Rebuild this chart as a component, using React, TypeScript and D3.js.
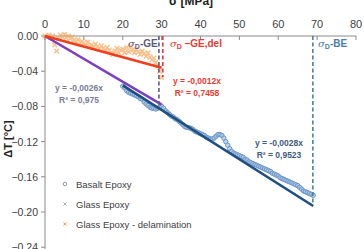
import React, { useEffect, useRef } from 'react'
import * as d3 from 'd3'

// stress [MPa] / temperature change [°C]
const delamStress = [0, 0.5, 1, 1.5, 2, 2.5, 3, 3.5, 4, 4.5, 5, 5.5, 6, 6.5, 7, 7.5, 8, 8.5, 9, 9.5, 10, 10.5, 11, 11.5, 12, 12.5, 13, 13.5, 14, 14.5, 15, 15.5, 16, 16.5, 17, 17.5, 18, 18.5, 19, 19.5, 20, 20.5, 21, 21.5, 22, 22.5, 23, 23.5, 24, 24.5, 25, 25.5, 26, 26.5, 27, 27.5, 28, 28.5, 29, 29.5, 30]
const delamDT = [0, -0.001, 0.001, -0.002, 0.0, -0.010, -0.017, -0.003, 0.001, -0.001, 0.002, -0.002, 0.0, -0.003, -0.001, -0.005, -0.007, -0.004, -0.009, -0.006, -0.008, -0.011, -0.007, -0.012, -0.010, -0.013, -0.009, -0.012, -0.015, -0.011, -0.014, -0.017, -0.013, -0.016, -0.019, -0.021, -0.017, -0.014, -0.019, -0.016, -0.015, -0.019, -0.013, -0.018, -0.012, -0.016, -0.019, -0.015, -0.018, -0.021, -0.017, -0.020, -0.023, -0.019, -0.024, -0.027, -0.025, -0.030, -0.034, -0.040, -0.047]

const glassStress = [4, 10, 16, 22, 28]
const glassDT = [-0.010, -0.026, -0.042, -0.057, -0.073]

const basaltStress = [20, 20.5, 21, 21.5, 22, 22.5, 23, 23.5, 24, 24.5, 25, 25.5, 26, 26.5, 27, 27.5, 28, 28.5, 29, 29.5, 30, 30.5, 31, 31.5, 32, 32.5, 33, 33.5, 34, 34.5, 35, 35.5, 36, 36.5, 37, 37.5, 38, 38.5, 39, 39.5, 40, 40.5, 41, 41.5, 42, 42.5, 43, 43.5, 44, 44.5, 45, 45.5, 46, 46.5, 47, 47.5, 48, 48.5, 49, 49.5, 50, 50.5, 51, 51.5, 52, 52.5, 53, 53.5, 54, 54.5, 55, 55.5, 56, 56.5, 57, 57.5, 58, 58.5, 59, 59.5, 60, 60.5, 61, 61.5, 62, 62.5, 63, 63.5, 64, 64.5, 65, 65.5, 66, 66.5, 67, 67.5, 68, 68.5, 69]
const basaltDT = [-0.057, -0.059, -0.062, -0.064, -0.065, -0.066, -0.067, -0.068, -0.069, -0.071, -0.072, -0.075, -0.077, -0.079, -0.081, -0.082, -0.082, -0.083, -0.082, -0.081, -0.080, -0.082, -0.085, -0.087, -0.089, -0.091, -0.092, -0.094, -0.095, -0.097, -0.099, -0.101, -0.103, -0.104, -0.104, -0.105, -0.106, -0.108, -0.109, -0.110, -0.111, -0.112, -0.113, -0.115, -0.116, -0.117, -0.117, -0.116, -0.114, -0.112, -0.112, -0.113, -0.116, -0.120, -0.124, -0.128, -0.131, -0.133, -0.134, -0.135, -0.136, -0.137, -0.138, -0.140, -0.141, -0.143, -0.144, -0.145, -0.146, -0.147, -0.148, -0.149, -0.150, -0.151, -0.152, -0.153, -0.154, -0.156, -0.157, -0.158, -0.159, -0.161, -0.162, -0.163, -0.164, -0.165, -0.166, -0.167, -0.168, -0.169, -0.170, -0.172, -0.174, -0.176, -0.177, -0.178, -0.179, -0.180, -0.181]

// trend lines y = a*x
const fitNames = ['glass', 'delam', 'basalt']
const fitSlopes = [-0.0026, -0.0012, -0.0028]
const fitFrom = [0, 0, 20]
const fitTo = [30, 30, 69]

// failure stress markers
const limitStress = [29.3, 30.3, 68.9]
const limitDepth = [-0.078, -0.047, -0.19]

const xTicks = [0, 10, 20, 30, 40, 50, 60, 70, 80]
const yTicks = [0, -0.04, -0.08, -0.12, -0.16, -0.2, -0.24]
const legendLabels = ['Basalt Epoxy', 'Glass Epoxy', 'Glass Epoxy - delamination']

const App = () => {
  const ref = useRef<SVGSVGElement>(null)

  useEffect(() => {
    const svg = d3.select(ref.current)
    svg.selectAll('*').remove()
    svg.attr('font-family', 'Liberation Sans, Arial, sans-serif')

    const x = d3.scaleLinear().domain([0, 80]).range([45, 356])
    const y = d3.scaleLinear().domain([0, -0.24]).range([36, 247.2])

    // title + y label
    svg.append('text').attr('x', 191).attr('y', 5).attr('text-anchor', 'middle')
      .attr('font-size', 12).attr('font-weight', 'bold').attr('fill', '#222').text('σ [MPa]')
    svg.append('text').attr('transform', 'translate(12,139) rotate(-90)').attr('text-anchor', 'middle')
      .attr('font-size', 11).attr('font-weight', 'bold').attr('fill', '#222').text('ΔT [°C]')

    // axes
    const axisColor = '#8a8a8a'
    const xa = svg.append('g')
    xa.append('line').attr('x1', x(0)).attr('x2', x(80)).attr('y1', y(0)).attr('y2', y(0))
      .attr('stroke', axisColor).attr('stroke-width', 1)
    xTicks.forEach(t => {
      xa.append('line').attr('x1', x(t)).attr('x2', x(t)).attr('y1', y(0)).attr('y2', y(0) + 4)
        .attr('stroke', axisColor)
      xa.append('text').attr('x', x(t)).attr('y', 28).attr('text-anchor', 'middle')
        .attr('font-size', 11).attr('fill', '#404040').text(t)
    })
    const ya = svg.append('g')
    ya.append('line').attr('x1', x(0)).attr('x2', x(0)).attr('y1', y(0)).attr('y2', 249)
      .attr('stroke', axisColor)
    yTicks.forEach(t => {
      ya.append('line').attr('x1', x(0) - 4).attr('x2', x(0)).attr('y1', y(t)).attr('y2', y(t))
        .attr('stroke', axisColor)
      ya.append('text').attr('x', 38).attr('y', y(t) + 4).attr('text-anchor', 'end')
        .attr('font-size', 10.5).attr('fill', '#404040').text(d3.format('.2f')(t))
    })

    const cross = (g, cx, cy, s, color, w) => {
      g.append('path').attr('d', `M${cx - s},${cy - s}L${cx + s},${cy + s}M${cx - s},${cy + s}L${cx + s},${cy - s}`)
        .attr('stroke', color).attr('stroke-width', w).attr('fill', 'none')
    }

    // glass epoxy (mostly beneath its trend line)
    const gGlass = svg.append('g').attr('opacity', 0.4)
    glassStress.forEach((s, i) => cross(gGlass, x(s), y(glassDT[i]), 1.5, '#a9b4c6', 0.8))

    // delamination crosses
    const gDel = svg.append('g').attr('opacity', 0.7)
    delamStress.forEach((s, i) => cross(gDel, x(s), y(delamDT[i]), 2.3, '#f6a557', 1.4))

    // basalt circles
    const gBas = svg.append('g')
    basaltStress.forEach((s, i) => {
      gBas.append('circle').attr('cx', x(s)).attr('cy', y(basaltDT[i])).attr('r', 2.2)
        .attr('fill', '#a9c5e6').attr('fill-opacity', 0.7).attr('stroke', '#6a95c8').attr('stroke-width', 1)
    })

    // trend lines
    const fitColors = ['#7d3fbf', '#f23d1c', '#1f4f7e']
    const line = d3.line<number[]>().x(d => x(d[0])).y(d => y(d[1]))
    fitNames.forEach((n, i) => {
      const pts = [[fitFrom[i], fitSlopes[i] * fitFrom[i]], [fitTo[i], fitSlopes[i] * fitTo[i]]]
      svg.append('path').attr('d', line(pts)).attr('stroke', fitColors[i])
        .attr('stroke-width', 2.6).attr('fill', 'none')
    })

    // dashed limits
    const limitColors = ['#5c5c80', '#e63a35', '#4a80aa']
    limitStress.forEach((s, i) => {
      svg.append('line').attr('x1', x(s)).attr('x2', x(s)).attr('y1', y(0)).attr('y2', y(limitDepth[i]))
        .attr('stroke', limitColors[i]).attr('stroke-width', 1.6).attr('stroke-dasharray', '4,2.5')
    })

    const sigma = (tx, ty, color, rest) => {
      const t = svg.append('text').attr('x', tx).attr('y', ty).attr('font-size', 10)
        .attr('font-weight', 'bold').attr('fill', color)
      t.append('tspan').attr('font-family', 'DejaVu Serif, serif').attr('font-style', 'italic')
        .attr('font-weight', 'normal').text('σ')
      t.append('tspan').attr('font-size', 7).attr('dy', 2).text('D')
      t.append('tspan').attr('dy', -2).text(rest)
    }
    sigma(128, 47, '#5c5c80', '-GE')
    sigma(170, 47, '#e63a35', ' –GE,del')
    sigma(318, 47, '#4a80aa', '-BE')

    // equations
    const eq = (cx, ty, color, l1, l2) => {
      svg.append('text').attr('x', cx).attr('y', ty).attr('text-anchor', 'middle').attr('font-size', 8.5)
        .attr('font-weight', 'bold').attr('fill', color).text(l1)
      svg.append('text').attr('x', cx).attr('y', ty + 12).attr('text-anchor', 'middle').attr('font-size', 8.5)
        .attr('font-weight', 'bold').attr('fill', color).text(l2)
    }
    eq(79, 91, '#7a7a98', 'y = -0,0026x', 'R² = 0,975')
    eq(197, 84, '#ee3a2c', 'y = -0,0012x', 'R² = 0,7458')
    eq(279, 146, '#3e5a7e', 'y = -0,0028x', 'R² = 0,9523')

    // legend
    const lg = svg.append('g')
    legendLabels.forEach((l, i) => {
      const ly = 184 + i * 20
      if (i === 0) {
        lg.append('circle').attr('cx', 65).attr('cy', ly).attr('r', 1.8).attr('fill', 'none')
          .attr('stroke', '#7d8a9c').attr('stroke-width', 0.9)
      } else {
        cross(lg, 65, ly, 1.6, i === 1 ? '#a9b4c6' : '#f6a557', 1)
      }
      lg.append('text').attr('x', 76).attr('y', ly + 3.5).attr('font-size', 9.5).attr('fill', '#404040').text(l)
    })
  }, [])

  return (
    <div style={{ position: 'absolute', left: 0, top: 0 }}>
      <svg ref={ref} width={364} height={249} style={{ display: 'block', background: '#fff' }} />
    </div>
  )
}

export default App
